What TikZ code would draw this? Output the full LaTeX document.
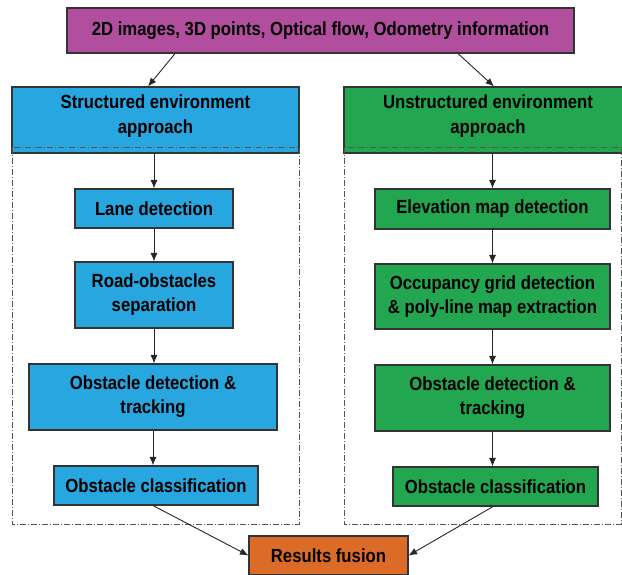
\documentclass[tikz,border=0pt]{standalone}
\usepackage{fontspec}
\setmainfont{Liberation Sans}[FakeStretch=0.88]
\usetikzlibrary{arrows.meta,calc}
\definecolor{cblue}{HTML}{27A6DF}
\definecolor{cgreen}{HTML}{22A650}
\definecolor{cmag}{HTML}{B24E9E}
\definecolor{corange}{HTML}{DC6B28}
\definecolor{cedge}{HTML}{333333}
\definecolor{cdash}{HTML}{555555}
\tikzset{
  box/.style={draw=cedge, line width=1.1pt, inner sep=0pt, align=center,
    font=\bfseries\fontsize{19}{24}\selectfont, text=black},
  lbl/.style={inner sep=0pt, align=center, font=\bfseries\fontsize{19}{24.5}\selectfont, text=black},
  arr/.style={draw=black!85, line width=0.9pt, -{Latex[length=8.5pt,width=7pt]}},
  dashbox/.style={draw=cdash, line width=0.9pt, dash pattern=on 6pt off 2pt on 1pt off 2pt}
}
\begin{document}
\begin{tikzpicture}[x=1pt,y=-1pt]
\useasboundingbox (0,0) rectangle (622,574);
% top
\node[box, fill=cmag, minimum width=507pt, minimum height=45pt] (top) at (320.5,30.5)
  {2D images, 3D points, Optical flow, Odometry information};
% approach boxes
\node[box, fill=cblue, minimum width=287pt, minimum height=66pt] (sa) at (155.5,120) {};
\node[lbl] (salbl) at (155.5,116) {Structured environment\\approach};
\node[box, fill=cgreen, minimum width=284pt, minimum height=66pt] (ua) at (486,120) {};
\node[lbl] (ualbl) at (488,116) {Unstructured environment\\approach};
% dash-dot regions
\draw[dashbox] (12,147) rectangle (299,524);
\draw[dashbox] (344,147) rectangle (621,524);
% left column
\node[box, fill=cblue, minimum width=158pt, minimum height=39pt] (lane) at (154,208.5) {Lane detection};
\node[box, fill=cblue, minimum width=158pt, minimum height=66pt] (road) at (154,295) {Road-obstacles\\separation};
\node[box, fill=cblue, minimum width=248pt, minimum height=66pt] (odl) at (153,397) {Obstacle detection \&\\tracking};
\node[box, fill=cblue, minimum width=204pt, minimum height=39pt] (ocl) at (156,485.5) {Obstacle classification};
% right column
\node[box, fill=cgreen, minimum width=235pt, minimum height=40pt] (elev) at (492.5,209) {Elevation map detection};
\node[box, fill=cgreen, minimum width=235pt, minimum height=65pt] (occ) at (492.5,296.5) {Occupancy grid detection\\\& poly-line map extraction};
\node[box, fill=cgreen, minimum width=235pt, minimum height=66pt] (odr) at (492.5,398) {Obstacle detection \&\\tracking};
\node[box, fill=cgreen, minimum width=205pt, minimum height=39pt] (ocr) at (495.5,486.5) {Obstacle classification};
% fusion
\node[box, fill=corange, minimum width=159pt, minimum height=39pt] (rf) at (328.5,555.5) {Results fusion};
% arrows
\draw[arr] ([xshift=-145.5pt]top.south) -- ([xshift=-7.5pt]sa.north);
\draw[arr] ([xshift=137.5pt]top.south) -- ([xshift=8pt]ua.north);
\draw[arr] (sa.south -| lane.north) -- (lane.north);
\draw[arr] (lane.south) -- (road.north);
\draw[arr] (road.south) -- (road.south |- odl.north);
\draw[arr] (odl.south) -- (odl.south |- ocl.north);
\draw[arr] (ua.south -| elev.north) -- (elev.north);
\draw[arr] (elev.south) -- (occ.north);
\draw[arr] (occ.south) -- (odr.north);
\draw[arr] (odr.south) -- (odr.south |- ocr.north);
\draw[arr] ([xshift=-3pt]ocl.south) -- (rf.west);
\draw[arr] ([xshift=-2.5pt]ocr.south) -- (rf.east);
\end{tikzpicture}
\end{document}
